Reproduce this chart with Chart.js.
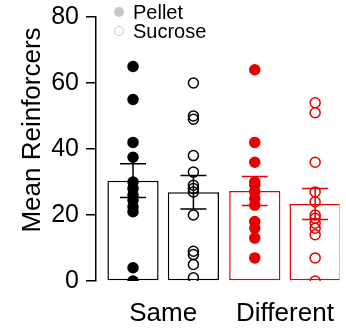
<!DOCTYPE html>
<html><head><meta charset="utf-8">
<script src="https://cdn.jsdelivr.net/npm/chart.js@4"></script>
<style>
html,body{margin:0;padding:0;background:#fff;overflow:hidden}
#wrap{position:relative;width:346px;height:329px}
#c{position:absolute;left:0;top:0}
.lg{position:absolute;font-family:"Liberation Sans",Arial,sans-serif;font-size:20px;color:#000;line-height:20px;white-space:nowrap}
.dot{position:absolute;width:10px;height:10px;border-radius:50%;box-sizing:border-box}
#ytitle{position:absolute;left:-99px;top:114px;width:260px;height:32px;line-height:32px;text-align:center;
 font-family:"Liberation Sans",Arial,sans-serif;font-size:26px;color:#000;transform:rotate(-90deg);white-space:nowrap}
</style></head><body>
<div id="wrap">
<canvas id="c" width="346" height="329"></canvas>
<div class="dot" style="left:114px;top:7px;background:#c8c8c8"></div>
<div class="lg" style="left:133px;top:2px">Pellet</div>
<div class="dot" style="left:114px;top:26px;border:1.5px solid #c8c8c8"></div>
<div class="lg" style="left:133px;top:21px">Sucrose</div>
<div id="ytitle">Mean Reinforcers</div>
</div>
<script>
const categories = ['Same', 'Different'];
const seriesNames = ['Pellet', 'Sucrose'];
const pelletMeans = [30.4, 27.3];
const pelletSem = [5.1, 4.4];
const sucroseMeans = [26.9, 23.3];
const sucroseSem = [5.1, 4.7];
const samePellet = [65, 55, 42, 37.5, 30, 28, 26, 24.5, 22.5, 21, 4, 0];
const sameSucrose = [60, 50, 49, 38, 33, 29, 28, 27, 20, 9, 8, 5, 1];
const diffPellet = [64, 42, 36, 30, 29, 27, 25, 23, 18, 16, 13, 7];
const diffSucrose = [54, 51, 36, 27, 24, 20, 19, 17.5, 16, 14, 7, 0];
const yTicks = [0, 20, 40, 60, 80];

const BLACK = '#000000', RED = '#e60000';
const groupColors = [BLACK, RED];
const OFF = 0.248; // half spacing between the two bars within a category (in category units)
const seriesOffset = [-OFF, OFF];

function pts(values, catIndex, s) {
  return values.map(v => ({ x: catIndex + 1 + seriesOffset[s], y: v }));
}
function bars(means) {
  return means.map((m, i) => ({ x: i + 1, y: m }));
}

const scatterBase = { type: 'scatter', order: 0, pointRadius: 5, pointHoverRadius: 5, pointBorderWidth: 1.5, showLine: false };

const datasets = [
  Object.assign({}, scatterBase, { label: 'Same Pellet', data: pts(samePellet, 0, 0), pointBackgroundColor: BLACK, pointBorderColor: BLACK }),
  Object.assign({}, scatterBase, { label: 'Same Sucrose', data: pts(sameSucrose, 0, 1), pointBackgroundColor: 'rgba(0,0,0,0)', pointBorderColor: BLACK }),
  Object.assign({}, scatterBase, { label: 'Different Pellet', data: pts(diffPellet, 1, 0), pointBackgroundColor: RED, pointBorderColor: RED }),
  Object.assign({}, scatterBase, { label: 'Different Sucrose', data: pts(diffSucrose, 1, 1), pointBackgroundColor: 'rgba(0,0,0,0)', pointBorderColor: RED }),
  { type: 'bar', order: 1, label: seriesNames[0], data: bars(pelletMeans),
    backgroundColor: '#ffffff', borderColor: groupColors, borderWidth: 1.5, borderSkipped: false,
    categoryPercentage: 0.992, barPercentage: 0.848 },
  { type: 'bar', order: 1, label: seriesNames[1], data: bars(sucroseMeans),
    backgroundColor: '#ffffff', borderColor: groupColors, borderWidth: 1.5, borderSkipped: false,
    categoryPercentage: 0.992, barPercentage: 0.848 }
];

const errorBars = {
  id: 'errorBars',
  afterDatasetsDraw(chart) {
    const { ctx } = chart;
    const xs = chart.scales.x, ys = chart.scales.y;
    const series = [[pelletMeans, pelletSem], [sucroseMeans, sucroseSem]];
    ctx.save();
    ctx.lineWidth = 1.5;
    series.forEach(([means, sems], s) => {
      means.forEach((m, i) => {
        const x = xs.getPixelForValue(i + 1 + seriesOffset[s]);
        const yTop = ys.getPixelForValue(m + sems[i]);
        const yBot = ys.getPixelForValue(m - sems[i]);
        ctx.strokeStyle = groupColors[i];
        ctx.beginPath();
        ctx.moveTo(x, yTop); ctx.lineTo(x, yBot);
        ctx.moveTo(x - 13, yTop); ctx.lineTo(x + 13, yTop);
        ctx.moveTo(x - 13, yBot); ctx.lineTo(x + 13, yBot);
        ctx.stroke();
      });
    });
    ctx.restore();
  }
};

new Chart(document.getElementById('c'), {
  type: 'bar',
  data: { datasets },
  plugins: [errorBars],
  options: {
    responsive: false,
    animation: false,
    events: [],
    layout: { padding: { top: 17, left: 0, right: 0, bottom: 0 } },
    plugins: { legend: { display: false }, tooltip: { enabled: false } },
    scales: {
      x: {
        type: 'linear',
        offset: false,
        bounds: 'data',
        min: 0.448, max: 2.448,
        afterBuildTicks: (scale) => { scale.ticks = categories.map((c, i) => ({ value: i + 1 })); },
        afterFit: (scale) => { scale.height = 48; scale.paddingLeft = 0; scale.paddingRight = 0; },
        grid: { display: false, drawTicks: false, offset: false },
        border: { display: false },
        ticks: {
          autoSkip: false, maxRotation: 0, padding: 17, color: BLACK,
          font: { family: '"Liberation Sans", Arial, sans-serif', size: 26 },
          callback: (v) => categories[Math.round(v) - 1]
        }
      },
      y: {
        type: 'linear',
        bounds: 'data',
        min: yTicks[0], max: yTicks[yTicks.length - 1],
        afterBuildTicks: (scale) => { scale.ticks = yTicks.map(v => ({ value: v })); },
        afterFit: (scale) => { scale.width = 96; scale.paddingTop = 0; scale.paddingBottom = 0; },
        grid: { drawOnChartArea: false, color: BLACK, lineWidth: 1.5, tickLength: 10 },
        border: { display: true, color: BLACK, width: 1.5 },
        ticks: {
          padding: 7, color: BLACK,
          font: { family: '"Liberation Sans", Arial, sans-serif', size: 25 }
        }
      }
    }
  }
});
</script>
</body></html>
